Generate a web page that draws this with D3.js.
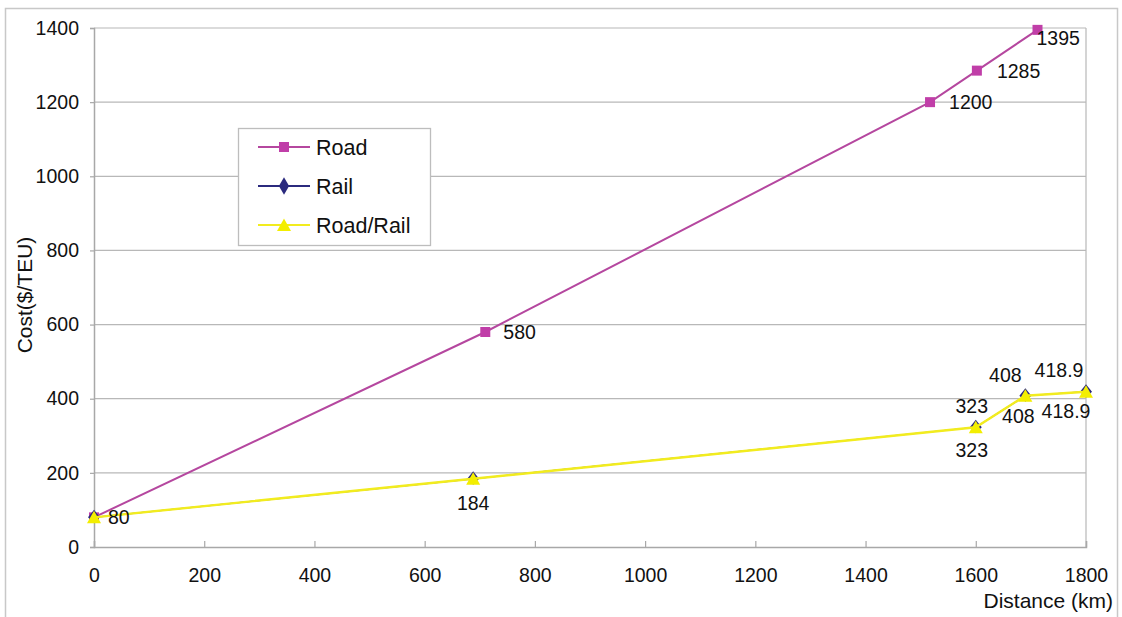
<!DOCTYPE html>
<html><head><meta charset="utf-8">
<script src="https://cdn.jsdelivr.net/npm/d3@7"></script>
<style>body{margin:0;background:#fff}text{font-family:"Liberation Sans",Arial,sans-serif;fill:#111}</style>
</head><body><svg id="c" width="1122" height="617"></svg>
<script>
const seriesNames = ["Road", "Rail", "Road/Rail"];
const roadDist = [0, 710, 1517, 1602, 1712];
const roadCost = [80, 580, 1200, 1285, 1395];
const railDist = [0, 688, 1600, 1690, 1800];
const railCost = [80, 184, 323, 408, 418.9];
const roadRailDist = [0, 688, 1600, 1690, 1800];
const roadRailCost = [80, 184, 323, 408, 418.9];
const xTicks = [0, 200, 400, 600, 800, 1000, 1200, 1400, 1600, 1800];
const yTicks = [0, 200, 400, 600, 800, 1000, 1200, 1400];

// label placement (styling, not data): [dx, dy, anchor]
const roadLabelOff = [[14, 7, "start"], [18, 7, "start"], [19, 7, "start"], [20, 7, "start"], [-1, 15, "start"]];
const railLabelOff = [null, null, [-4, -14, "middle"], [-20, -14, "middle"], [-27, -15, "middle"]];
const roadRailLabelOff = [null, [0, 31, "middle"], [-4, 30, "middle"], [-7, 27, "middle"], [-20, 26, "middle"]];

const svg = d3.select("#c");
const m = {l: 94, r: 1086, t: 28, b: 547};
const x = d3.scaleLinear().domain([0, 1800]).range([m.l, m.r]);
const y = d3.scaleLinear().domain([0, 1400]).range([m.b, m.t]);
const FONT = '"Liberation Sans",Arial,sans-serif';

svg.append("rect").attr("x", 5.5).attr("y", 8.5).attr("width", 1112).attr("height", 640)
  .attr("fill", "#fff").attr("stroke", "#c8c8c8").attr("stroke-width", 1.5);

svg.append("g").selectAll("line").data(yTicks.filter(d => d > 0)).join("line")
  .attr("x1", m.l).attr("x2", m.r).attr("y1", d => y(d)).attr("y2", d => y(d))
  .attr("stroke", "#b8b8b8").attr("stroke-width", 1.2);
svg.append("line").attr("x1", m.r).attr("x2", m.r).attr("y1", m.t).attr("y2", m.b)
  .attr("stroke", "#b8b8b8").attr("stroke-width", 1.2);

const xAxis = svg.append("g").attr("transform", `translate(0,${m.b})`)
  .call(d3.axisBottom(x).tickValues(xTicks).tickSize(-6).tickPadding(21).tickFormat(d3.format("d")));
const yAxis = svg.append("g").attr("transform", `translate(${m.l},0)`)
  .call(d3.axisLeft(y).tickValues(yTicks).tickSize(4).tickPadding(11).tickFormat(d3.format("d")));
[xAxis, yAxis].forEach(a => {
  a.attr("font-size", null).attr("font-family", null);
  a.select(".domain").attr("stroke", "#a8a8a8").attr("stroke-width", 1.5);
  a.selectAll(".tick line").attr("stroke", "#a8a8a8").attr("stroke-width", 1.2);
  a.selectAll("text").style("font-size", "19.5px").style("font-family", FONT).attr("fill", "#111");
});

svg.append("text").attr("transform", "translate(32,295) rotate(-90)").attr("text-anchor", "middle")
  .style("font-size", "21px").text("Cost($/TEU)");
svg.append("text").attr("x", 1113).attr("y", 608).attr("text-anchor", "end")
  .style("font-size", "21px").text("Distance (km)");

const colors = {road: "#b5479f", roadM: "#c03ea8", rail: "#2b2a7e", rr: "#f2ec1e", rrM: "#f3ee00"};
const line = d3.line().x(d => x(d[0])).y(d => y(d[1]));
const zip = (a, b) => a.map((v, i) => [v, b[i]]);
const road = zip(roadDist, roadCost), rail = zip(railDist, railCost), rr = zip(roadRailDist, roadRailCost);

const sq = d3.symbol().type(d3.symbolSquare).size(100);
const dia = () => "M0,-7.5L6,0L0,6L-6,0Z";
// triangle centred on its bounding box (Excel-style marker)
const tri = () => "M0,-6.5L7,6L-7,6Z";

function drawSeries(data, stroke, sw, fill, sym) {
  svg.append("path").datum(data).attr("d", line).attr("fill", "none")
    .attr("stroke", stroke).attr("stroke-width", sw);
  svg.append("g").selectAll("path").data(data).join("path")
    .attr("d", sym).attr("transform", d => `translate(${x(d[0])},${y(d[1])})`)
    .attr("fill", fill);
}
drawSeries(road, colors.road, 2, colors.roadM, sq);
drawSeries(rail, colors.rail, 1.2, colors.rail, dia);
drawSeries(rr, colors.rr, 2.4, colors.rrM, tri);

function labels(data, offs) {
  svg.append("g").selectAll("text").data(data.map((d, i) => [d, offs[i]]).filter(e => e[1])).join("text")
    .attr("x", e => x(e[0][0]) + e[1][0]).attr("y", e => y(e[0][1]) + e[1][1])
    .attr("text-anchor", e => e[1][2])
    .style("font-size", "19.5px").text(e => e[0][1]);
}
labels(road, roadLabelOff);
labels(rail, railLabelOff);
labels(rr, roadRailLabelOff);

const lg = svg.append("g");
lg.append("rect").attr("x", 238.5).attr("y", 128.5).attr("width", 192).attr("height", 117)
  .attr("fill", "#fff").attr("stroke", "#bdbdbd").attr("stroke-width", 1.3);
const legItems = [
  {name: seriesNames[0], c: colors.road, f: colors.roadM, s: sq},
  {name: seriesNames[1], c: colors.rail, f: colors.rail, s: d3.symbol().type(d3.symbolDiamond).size(90)},
  {name: seriesNames[2], c: colors.rr, f: colors.rrM, s: tri}
];
legItems.forEach((it, i) => {
  const yy = 147 + i * 39;
  lg.append("line").attr("x1", 258).attr("x2", 310).attr("y1", yy).attr("y2", yy)
    .attr("stroke", it.c).attr("stroke-width", 2);
  lg.append("path").attr("d", it.s).attr("transform", `translate(284,${yy})`).attr("fill", it.f);
  lg.append("text").attr("x", 316).attr("y", yy + 7.5).style("font-size", "21.5px").text(it.name);
});
</script></body></html>
